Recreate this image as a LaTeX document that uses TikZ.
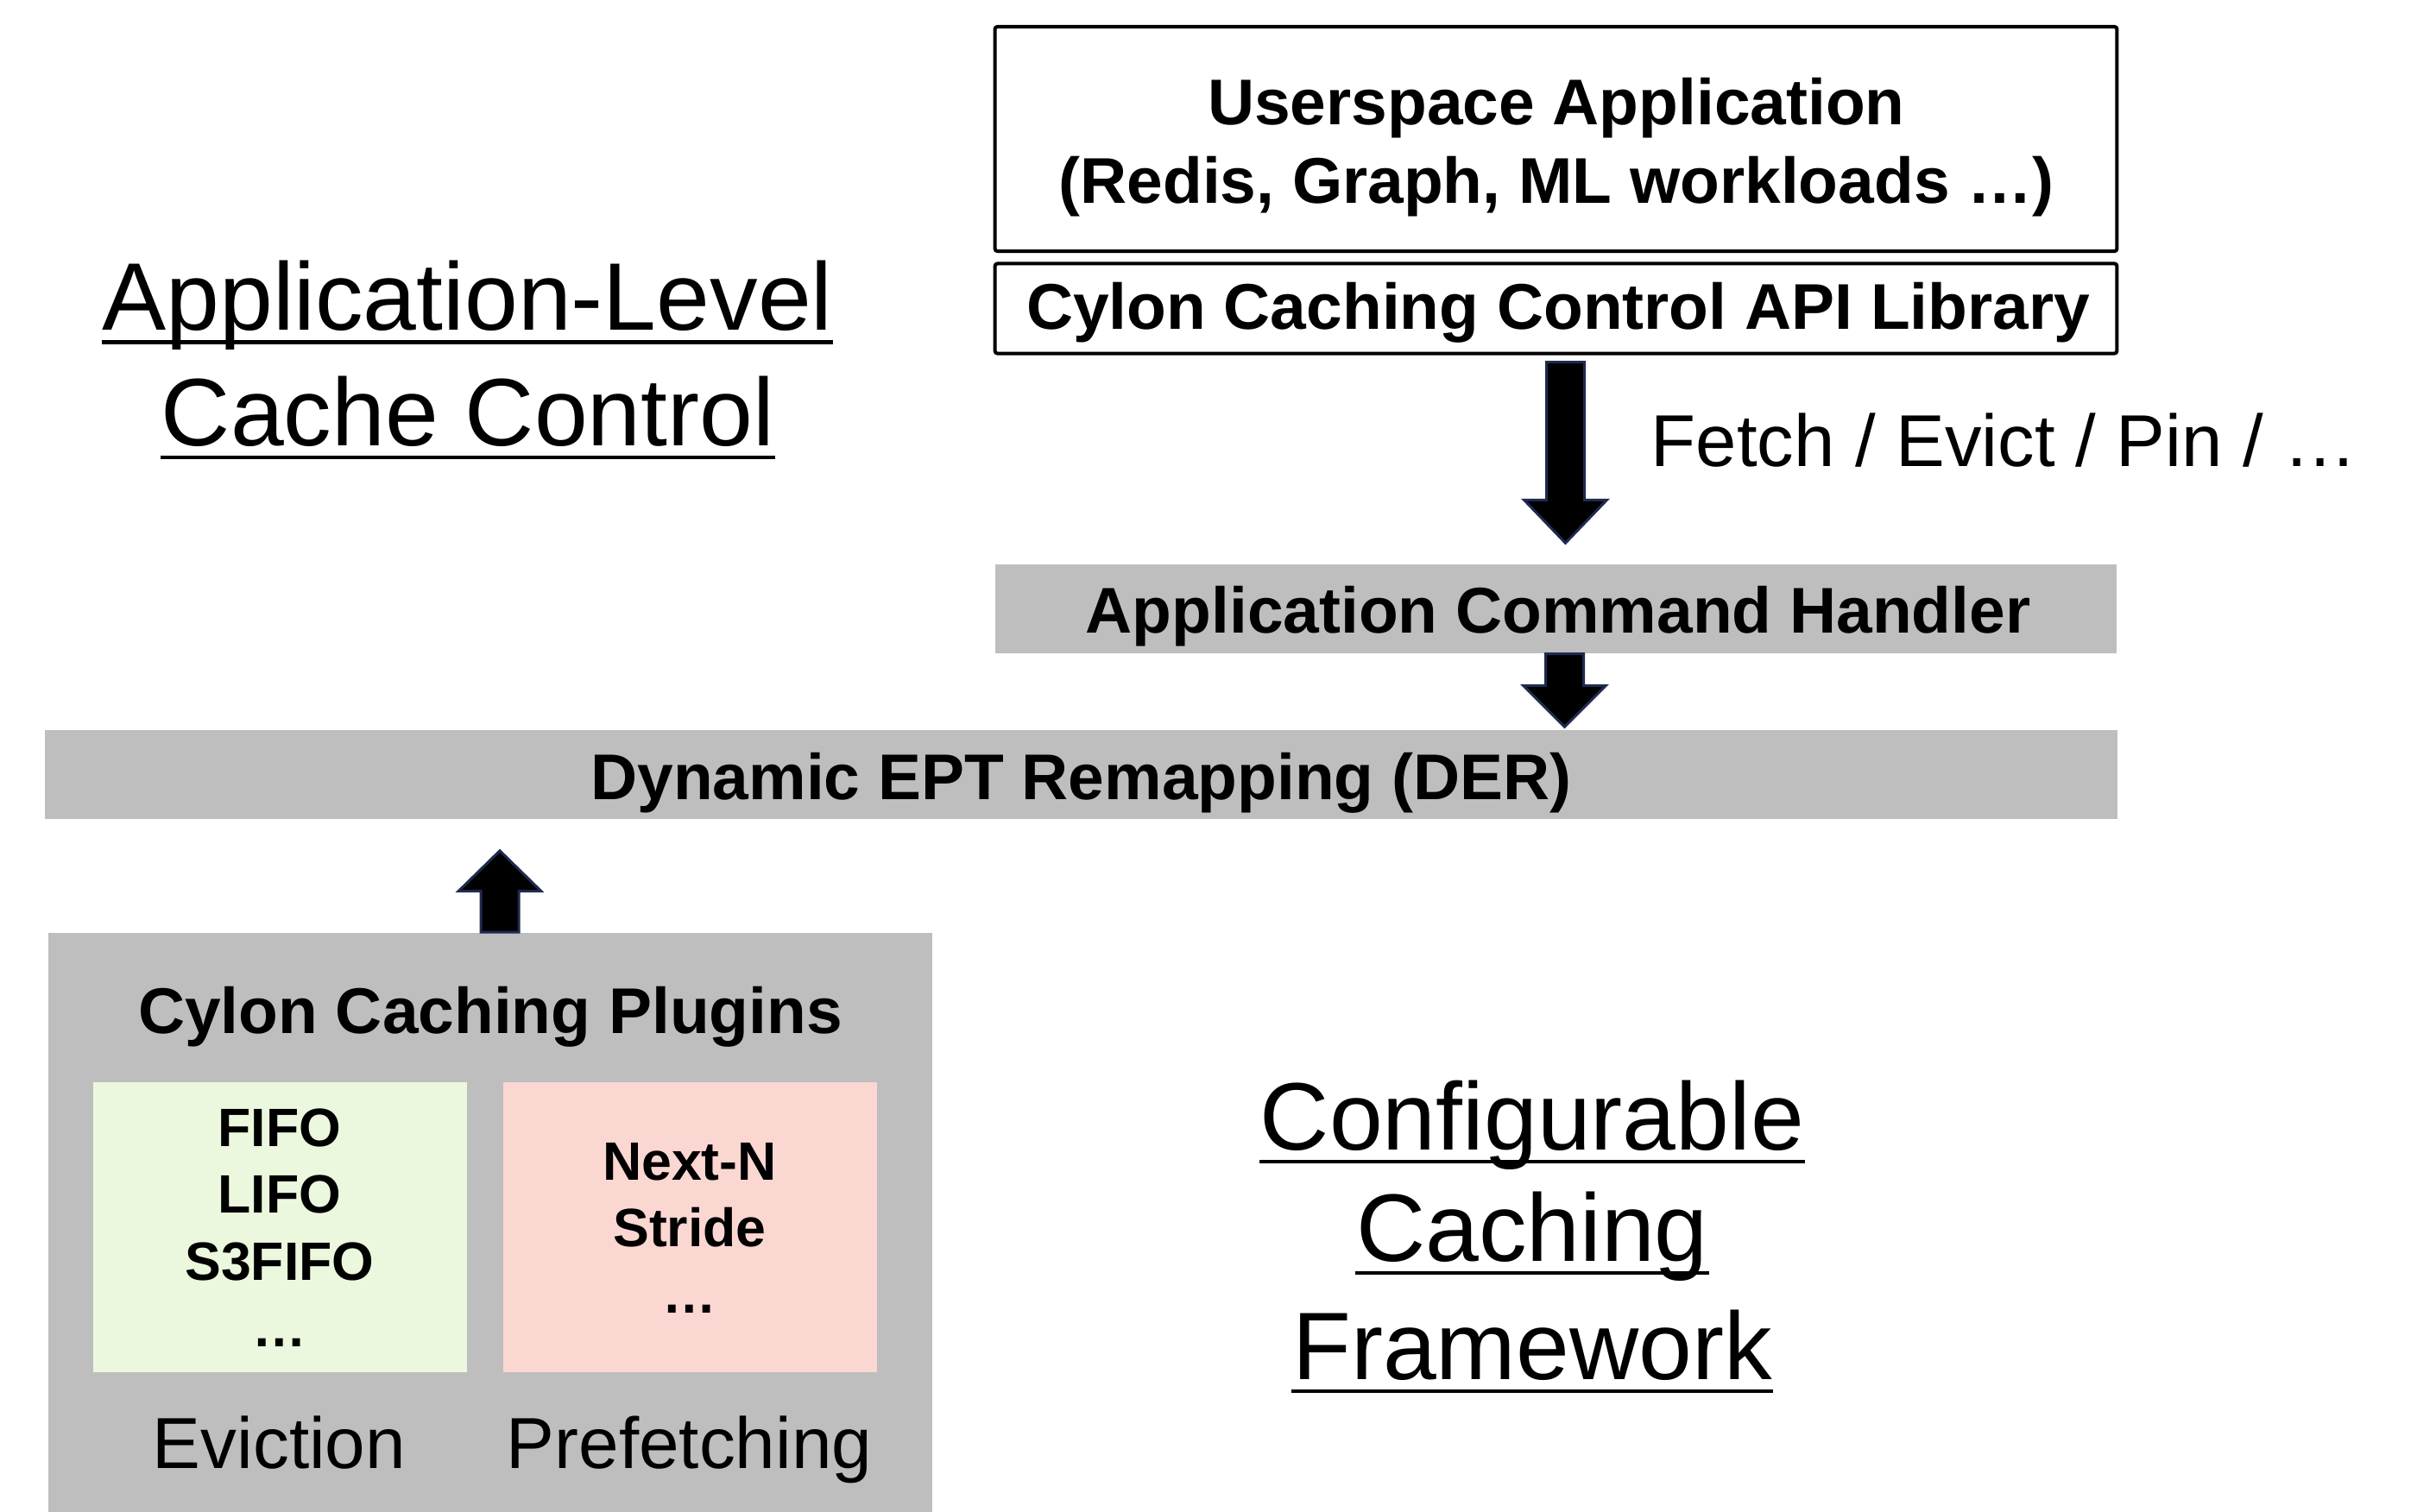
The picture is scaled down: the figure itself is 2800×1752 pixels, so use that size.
\documentclass[tikz,border=0pt]{standalone}
\usepackage{fontspec}
\setmainfont{Liberation Sans}
\usetikzlibrary{calc}

\definecolor{panelgray}{HTML}{BEBEBE}
\definecolor{evictgreen}{HTML}{EBF8DD}
\definecolor{prefpink}{HTML}{FBD7D2}
\definecolor{arrowedge}{HTML}{1F2A50}

% Vertical block arrow: tail coordinate, tip coordinate, signed head length
% (negative = arrow points down the page, positive = up).
\newcommand\vblockarrow[3]{%
  \draw[blockarrow] ($(#1)+(-22,0)$) -- ($(#1)+(22,0)$) -- ($(#2)+(22,#3)$)
    -- ($(#2)+(48,#3)$) -- (#2) -- ($(#2)+(-48,#3)$) -- ($(#2)+(-22,#3)$) -- cycle;}

\begin{document}
\begin{tikzpicture}[x=0.01cm, y=-0.01cm,
  outlinebox/.style={draw=black, line width=1.14pt, rounded corners=0.8pt,
    fill=white, inner sep=0pt},
  graybar/.style={fill=panelgray, inner sep=0pt},
  policybox/.style={inner sep=0pt},
  boldlabel/.style={font=\fontsize{21.3}{25.9}\selectfont\bfseries,
    inner sep=0pt, anchor=base},
  policylabel/.style={font=\fontsize{17.8}{22}\selectfont\bfseries,
    inner sep=0pt, anchor=base},
  plainlabel/.style={font=\fontsize{23.8}{28}\selectfont,
    inner sep=0pt, anchor=base},
  titlelabel/.style={font=\fontsize{31.6}{37.8}\selectfont,
    inner sep=0pt, anchor=base},
  underline/.style={line width=1.14pt},
  blockarrow/.style={fill=black, draw=arrowedge, line width=0.85pt,
    line join=miter},
]
\useasboundingbox (0,0) rectangle (2800,1752);

% ---- boxes ----
\node[outlinebox, minimum width=12.99cm, minimum height=2.6cm] (app) at (1802.5,161) {};
\node[outlinebox, minimum width=12.99cm, minimum height=1.04cm] (api) at (1802.5,357.5) {};
\node[graybar, minimum width=12.99cm, minimum height=1.03cm] (handler) at (1802.5,705.5) {};
\node[graybar, minimum width=23.99cm, minimum height=1.03cm] (der) at (1252.5,897.5) {};
\node[graybar, minimum width=10.24cm, minimum height=6.71cm] (plugins) at (568,1416.5) {};
\node[policybox, fill=evictgreen, minimum width=4.33cm, minimum height=3.36cm] (evict) at (324.5,1422) {};
\node[policybox, fill=prefpink, minimum width=4.33cm, minimum height=3.36cm] (prefetch) at (799.5,1422) {};

% ---- box texts ----
\node[boldlabel] (appname) at (1803,145) {Userspace Application};
\node[boldlabel] (appkinds) at (1803,236) {(Redis, Graph, ML workloads …)};
\node[boldlabel] (apitext) at (1805,382) {Cylon Caching Control API Library};
\node[boldlabel] (handlertext) at (1805,733) {Application Command Handler};
\node[boldlabel] (dertext) at (1252.5,926) {Dynamic EPT Remapping (DER)};
\node[boldlabel] (pluginstext) at (568,1197.5) {Cylon Caching Plugins};

\node[policylabel] (fifo) at (324,1328) {FIFO};
\node[policylabel] (lifo) at (324,1405.5) {LIFO};
\node[policylabel] (s3fifo) at (324,1483) {S3FIFO};
\node[policylabel] (evictmore) at (324,1560) {…};

\node[policylabel] (nextn) at (799,1367) {Next-N};
\node[policylabel] (stride) at (799,1444) {Stride};
\node[policylabel] (prefmore) at (799,1521.5) {…};

\node[plainlabel] (evictname) at (323.5,1701) {Eviction};
\node[plainlabel] (prefname) at (798.5,1701) {Prefetching};

% ---- command label ----
\node[plainlabel, font=\fontsize{24.2}{28}\selectfont, anchor=base west] (cmds) at (1912,541) {Fetch / Evict / Pin / …};

% ---- underlined section titles ----
\node[titlelabel] (ttlA1) at (541.5,382.5) {Application-Level};
\node[titlelabel] (ttlA2) at (542,516) {Cache Control};
\node[titlelabel] (ttlB1) at (1775,1332) {Configurable};
\node[titlelabel] (ttlB2) at (1775,1461) {Caching};
\node[titlelabel] (ttlB3) at (1775,1598) {Framework};
\foreach \t in {ttlA1,ttlA2,ttlB1,ttlB2,ttlB3}
  \draw[underline] ($(\t.base west)+(0,14)$) -- ($(\t.base east)+(0,14)$);

% ---- block arrows ----
\coordinate (a1tail) at ($(api.south)+(11,8)$);
\coordinate (a1tip) at ($(a1tail |- handler.north)+(0,-24)$);
\vblockarrow{a1tail}{a1tip}{-50}

\coordinate (a2tail) at ($(handler.south)+(10,0)$);
\coordinate (a2tip) at ($(a2tail |- der.north)+(0,-3)$);
\vblockarrow{a2tail}{a2tip}{-48}

\coordinate (a3tail) at ($(plugins.north)+(11,0)$);
\coordinate (a3tip) at ($(a3tail |- der.south)+(0,36)$);
\vblockarrow{a3tail}{a3tip}{47}
\end{tikzpicture}
\end{document}
